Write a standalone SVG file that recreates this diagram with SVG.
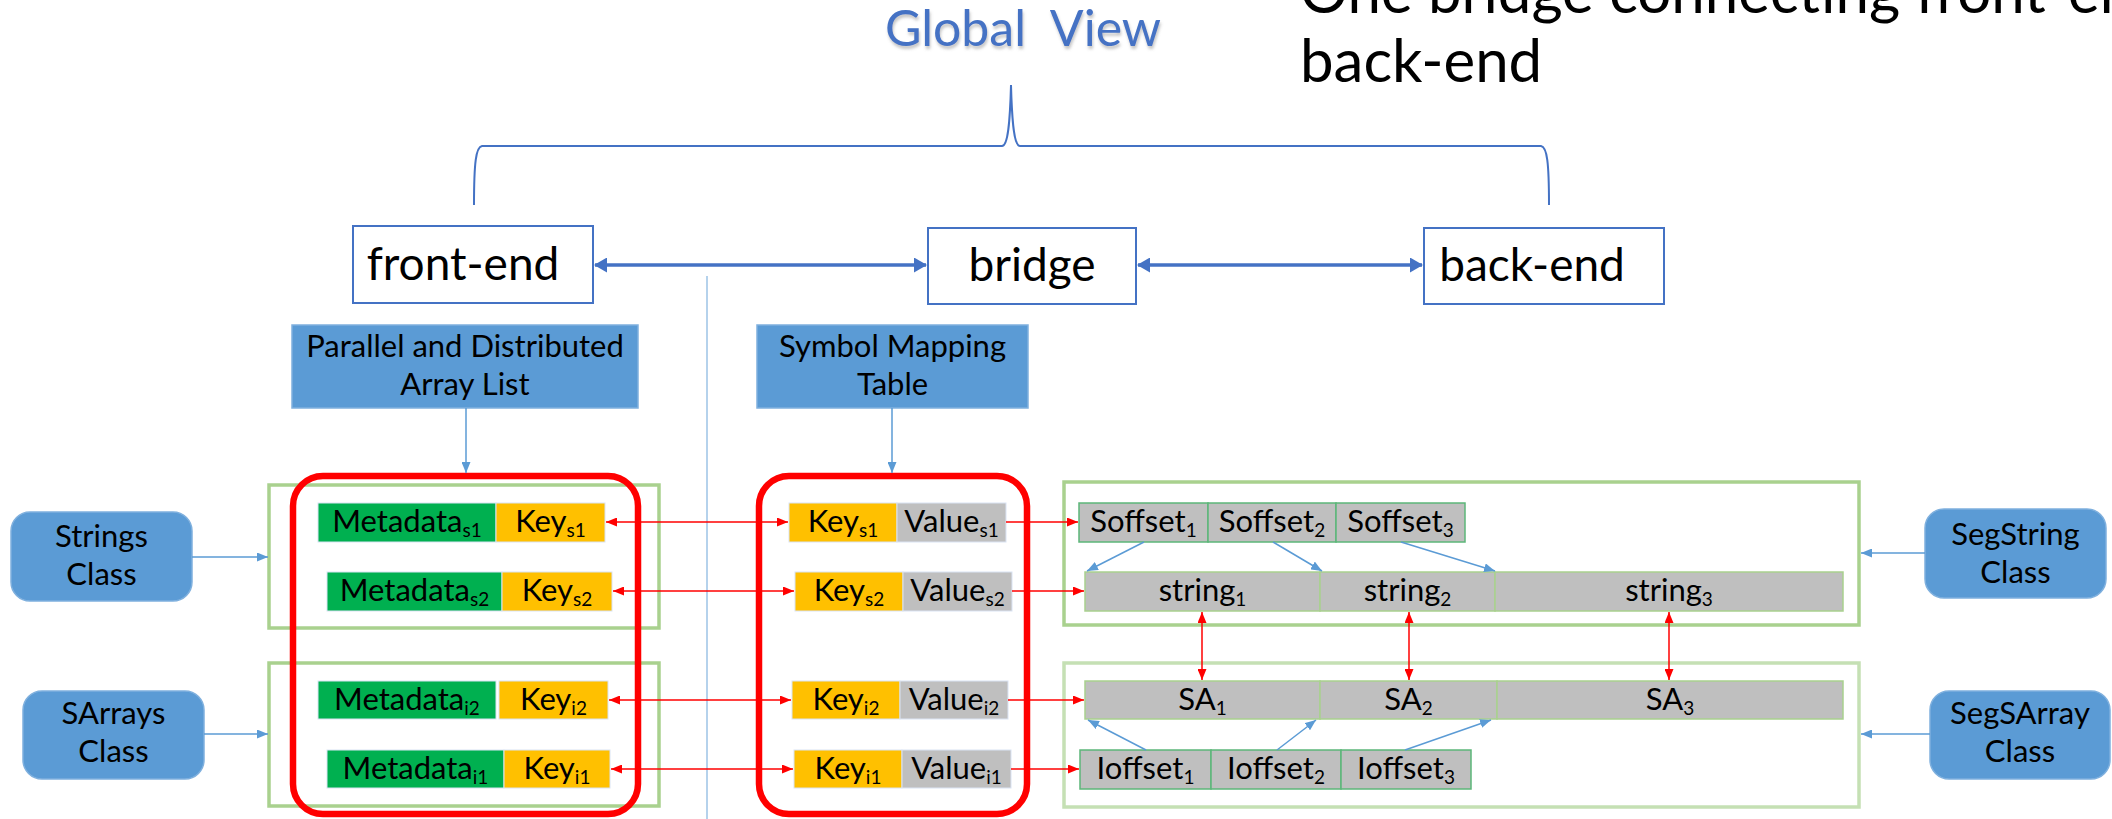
<svg xmlns="http://www.w3.org/2000/svg" width="2112" height="819" viewBox="0 0 2112 819">
  <defs>
    <marker id="arrRed" markerUnits="userSpaceOnUse" markerWidth="11" markerHeight="9" refX="11" refY="4.5" orient="auto-start-reverse">
      <path d="M0,0 L11,4.5 L0,9 z" fill="#FF0000"/>
    </marker>
    <marker id="arrBlue" markerUnits="userSpaceOnUse" markerWidth="11" markerHeight="9" refX="11" refY="4.5" orient="auto-start-reverse">
      <path d="M0,0 L11,4.5 L0,9 z" fill="#5B9BD5"/>
    </marker>
    <marker id="arrBold" markerUnits="userSpaceOnUse" markerWidth="13" markerHeight="15" refX="12" refY="7.5" orient="auto-start-reverse">
      <path d="M0,0 L13,7.5 L0,15 z" fill="#4472C4"/>
    </marker>
    <filter id="txtShadow" x="-10%" y="-20%" width="120%" height="150%">
      <feDropShadow dx="1" dy="3" stdDeviation="1.5" flood-color="#7f7f7f" flood-opacity="0.45"/>
    </filter>
  </defs>
  <style>
    text { font-family: Lato, "Open Sans", "Liberation Sans", sans-serif; fill: #000; }
    .t48 { font-size: 46px; text-anchor: middle; }
    .t32 { font-size: 31px; text-anchor: middle; }
    .sub { font-size: 19px; }
    .view { fill: #FFFFFF; stroke: #4472C4; stroke-width: 2; }
    .blueBox { fill: #5B9BD5; stroke: #7FB0DE; stroke-width: 1.5; }
    .grpA { fill: none; stroke: #A9D18E; stroke-width: 3.5; }
    .grpB { fill: none; stroke: #C5E0B4; stroke-width: 3.5; }
    .redBox { fill: none; stroke: #FF0000; stroke-width: 6.5; }
    .meta { fill: #00B050; stroke: #DAE3F3; stroke-width: 1; }
    .key { fill: #FFC000; stroke: #DAE3F3; stroke-width: 1; }
    .val { fill: #BFBFBF; stroke: #DAE3F3; stroke-width: 1; }
    .off { fill: #BFBFBF; stroke: #5CB679; stroke-width: 1.5; }
    .seg { fill: #BFBFBF; stroke: #A9D18E; stroke-width: 1.5; }
    .lnRed { fill: none; stroke: #FF0000; stroke-width: 1.5; }
    .lnBlue { fill: none; stroke: #5B9BD5; stroke-width: 1.5; }
  </style>

  <!-- headings -->
  <g id="title">
    <text x="1023" y="46" style="font-size:50px;fill:#4472C4;text-anchor:middle" filter="url(#txtShadow)" xml:space="preserve">Global  View</text>
    <text x="1300" y="13" style="font-size:60px">One bridge connecting front-end and</text>
    <text x="1300" y="82" style="font-size:60px">back-end</text>
  </g>

  <!-- overall brace and separator -->
  <g id="brace">
    <path d="M474,205 C474,162 476,147 482,146 L1002,146 C1008,146 1010,122 1011,85 C1012,122 1014,146 1020,146 L1541,146 C1547,147 1549,162 1549,205" fill="none" stroke="#4472C4" stroke-width="2"/>
  </g>
  <g id="separator">
    <line x1="707" y1="276" x2="707" y2="819" stroke="#9DC3E6" stroke-width="1.5"/>
  </g>

  <!-- top level views -->
  <g id="front-end">
    <rect class="view" x="353" y="226" width="240" height="77"/>
    <text class="t48" x="463" y="280">front-end</text>
  </g>
  <g id="bridge">
    <rect class="view" x="928" y="228" width="208" height="76"/>
    <text class="t48" x="1032" y="281">bridge</text>
  </g>
  <g id="back-end">
    <rect class="view" x="1424" y="228" width="240" height="76"/>
    <text class="t48" x="1532" y="281">back-end</text>
  </g>

  <!-- labels -->
  <g id="array-list">
    <rect class="blueBox" x="292" y="325" width="346" height="83"/>
    <text class="t32" x="465" y="357">Parallel and Distributed</text>
    <text class="t32" x="465" y="395">Array List</text>
  </g>
  <g id="symbol-table">
    <rect class="blueBox" x="757" y="325" width="271" height="83"/>
    <text class="t32" x="892.5" y="357">Symbol Mapping</text>
    <text class="t32" x="892.5" y="395">Table</text>
  </g>

  <!-- class boxes -->
  <g id="strings-class">
    <rect class="blueBox" x="11" y="512" width="181" height="89" rx="19"/>
    <text class="t32" x="101.5" y="547">Strings</text>
    <text class="t32" x="101.5" y="585">Class</text>
  </g>
  <g id="sarrays-class">
    <rect class="blueBox" x="23" y="691" width="181" height="88" rx="19"/>
    <text class="t32" x="113.5" y="724">SArrays</text>
    <text class="t32" x="113.5" y="762">Class</text>
  </g>
  <g id="segstring-class">
    <rect class="blueBox" x="1925" y="509" width="181" height="89" rx="19"/>
    <text class="t32" x="2015.5" y="545">SegString</text>
    <text class="t32" x="2015.5" y="583">Class</text>
  </g>
  <g id="segsarray-class">
    <rect class="blueBox" x="1930" y="691" width="180" height="88" rx="19"/>
    <text class="t32" x="2020" y="724">SegSArray</text>
    <text class="t32" x="2020" y="762">Class</text>
  </g>

  <!-- grouping frames -->
  <g id="frames">
    <rect class="grpA" x="269" y="485" width="390" height="143"/>
    <rect class="grpA" x="269" y="663" width="390" height="143"/>
    <rect class="grpA" x="1064" y="482" width="795" height="143"/>
    <rect class="grpB" x="1064" y="663" width="795" height="144"/>
    <rect class="redBox" x="293" y="476" width="345" height="338" rx="30"/>
    <rect class="redBox" x="759" y="476" width="268" height="338" rx="30"/>
  </g>

  <!-- front-end entries -->
  <g id="entry-s1">
    <rect class="meta" x="318" y="503" width="178" height="39"/>
    <rect class="key" x="496" y="503" width="109" height="39"/>
    <text class="t32" x="407" y="532">Metadata<tspan class="sub" dy="5">s1</tspan></text>
    <text class="t32" x="550.5" y="532">Key<tspan class="sub" dy="5">s1</tspan></text>
  </g>
  <g id="entry-s2">
    <rect class="meta" x="327" y="572" width="175" height="39"/>
    <rect class="key" x="502" y="572" width="110" height="39"/>
    <text class="t32" x="414.5" y="601">Metadata<tspan class="sub" dy="5">s2</tspan></text>
    <text class="t32" x="557" y="601">Key<tspan class="sub" dy="5">s2</tspan></text>
  </g>
  <g id="entry-i2">
    <rect class="meta" x="318" y="681" width="178" height="38"/>
    <rect class="key" x="499" y="681" width="109" height="38"/>
    <text class="t32" x="407" y="710">Metadata<tspan class="sub" dy="5">i2</tspan></text>
    <text class="t32" x="553.5" y="710">Key<tspan class="sub" dy="5">i2</tspan></text>
  </g>
  <g id="entry-i1">
    <rect class="meta" x="327" y="750" width="177" height="38"/>
    <rect class="key" x="504" y="750" width="106" height="38"/>
    <text class="t32" x="415.5" y="779">Metadata<tspan class="sub" dy="5">i1</tspan></text>
    <text class="t32" x="557" y="779">Key<tspan class="sub" dy="5">i1</tspan></text>
  </g>

  <!-- symbol table entries -->
  <g id="sym-s1">
    <rect class="key" x="789" y="503" width="108" height="39"/>
    <rect class="val" x="897" y="503" width="109" height="39"/>
    <text class="t32" x="843" y="532">Key<tspan class="sub" dy="5">s1</tspan></text>
    <text class="t32" x="951.5" y="532">Value<tspan class="sub" dy="5">s1</tspan></text>
  </g>
  <g id="sym-s2">
    <rect class="key" x="795" y="572" width="108" height="39"/>
    <rect class="val" x="903" y="572" width="109" height="39"/>
    <text class="t32" x="849" y="601">Key<tspan class="sub" dy="5">s2</tspan></text>
    <text class="t32" x="957.5" y="601">Value<tspan class="sub" dy="5">s2</tspan></text>
  </g>
  <g id="sym-i2">
    <rect class="key" x="792" y="681" width="108" height="38"/>
    <rect class="val" x="900" y="681" width="108" height="38"/>
    <text class="t32" x="846" y="710">Key<tspan class="sub" dy="5">i2</tspan></text>
    <text class="t32" x="954" y="710">Value<tspan class="sub" dy="5">i2</tspan></text>
  </g>
  <g id="sym-i1">
    <rect class="key" x="794" y="750" width="108" height="38"/>
    <rect class="val" x="902" y="750" width="109" height="38"/>
    <text class="t32" x="848" y="779">Key<tspan class="sub" dy="5">i1</tspan></text>
    <text class="t32" x="956.5" y="779">Value<tspan class="sub" dy="5">i1</tspan></text>
  </g>

  <!-- back-end segments -->
  <g id="soffsets">
    <rect class="off" x="1079" y="503" width="129" height="39"/>
    <rect class="off" x="1208" y="503" width="128" height="39"/>
    <rect class="off" x="1336" y="503" width="129" height="39"/>
    <text class="t32" x="1143.5" y="532">Soffset<tspan class="sub" dy="5">1</tspan></text>
    <text class="t32" x="1272" y="532">Soffset<tspan class="sub" dy="5">2</tspan></text>
    <text class="t32" x="1400.5" y="532">Soffset<tspan class="sub" dy="5">3</tspan></text>
  </g>
  <g id="strings">
    <rect class="seg" x="1085" y="572" width="235" height="39"/>
    <rect class="seg" x="1320" y="572" width="175" height="39"/>
    <rect class="seg" x="1495" y="572" width="348" height="39"/>
    <text class="t32" x="1202.5" y="601">string<tspan class="sub" dy="5">1</tspan></text>
    <text class="t32" x="1407.5" y="601">string<tspan class="sub" dy="5">2</tspan></text>
    <text class="t32" x="1669" y="601">string<tspan class="sub" dy="5">3</tspan></text>
  </g>
  <g id="sarrays">
    <rect class="seg" x="1085" y="681" width="235" height="38"/>
    <rect class="seg" x="1320" y="681" width="177" height="38"/>
    <rect class="seg" x="1497" y="681" width="346" height="38"/>
    <text class="t32" x="1202.5" y="710">SA<tspan class="sub" dy="5">1</tspan></text>
    <text class="t32" x="1408.5" y="710">SA<tspan class="sub" dy="5">2</tspan></text>
    <text class="t32" x="1670" y="710">SA<tspan class="sub" dy="5">3</tspan></text>
  </g>
  <g id="ioffsets">
    <rect class="off" x="1080" y="750" width="131" height="39"/>
    <rect class="off" x="1211" y="750" width="130" height="39"/>
    <rect class="off" x="1341" y="750" width="130" height="39"/>
    <text class="t32" x="1145.5" y="779">Ioffset<tspan class="sub" dy="5">1</tspan></text>
    <text class="t32" x="1276" y="779">Ioffset<tspan class="sub" dy="5">2</tspan></text>
    <text class="t32" x="1406" y="779">Ioffset<tspan class="sub" dy="5">3</tspan></text>
  </g>

  <!-- connectors -->
  <g id="connectors">
    <!-- view links -->
    <line x1="595" y1="265" x2="926" y2="265" stroke="#4472C4" stroke-width="3.5" marker-start="url(#arrBold)" marker-end="url(#arrBold)"/>
    <line x1="1138" y1="265" x2="1422" y2="265" stroke="#4472C4" stroke-width="3.5" marker-start="url(#arrBold)" marker-end="url(#arrBold)"/>
    <!-- label pointers -->
    <line class="lnBlue" x1="466" y1="408" x2="466" y2="473" marker-end="url(#arrBlue)"/>
    <line class="lnBlue" x1="892" y1="408" x2="892" y2="473" marker-end="url(#arrBlue)"/>
    <line class="lnBlue" x1="192" y1="557" x2="268" y2="557" marker-end="url(#arrBlue)"/>
    <line class="lnBlue" x1="204" y1="734" x2="268" y2="734" marker-end="url(#arrBlue)"/>
    <line class="lnBlue" x1="1925" y1="553" x2="1861" y2="553" marker-end="url(#arrBlue)"/>
    <line class="lnBlue" x1="1930" y1="734" x2="1861" y2="734" marker-end="url(#arrBlue)"/>
    <!-- key links -->
    <line class="lnRed" x1="606" y1="522" x2="788" y2="522" marker-start="url(#arrRed)" marker-end="url(#arrRed)"/>
    <line class="lnRed" x1="613" y1="591" x2="794" y2="591" marker-start="url(#arrRed)" marker-end="url(#arrRed)"/>
    <line class="lnRed" x1="609" y1="700" x2="791" y2="700" marker-start="url(#arrRed)" marker-end="url(#arrRed)"/>
    <line class="lnRed" x1="611" y1="769" x2="793" y2="769" marker-start="url(#arrRed)" marker-end="url(#arrRed)"/>
    <!-- value links -->
    <line class="lnRed" x1="1006" y1="522" x2="1078" y2="522" marker-end="url(#arrRed)"/>
    <line class="lnRed" x1="1012" y1="591" x2="1084" y2="591" marker-end="url(#arrRed)"/>
    <line class="lnRed" x1="1008" y1="700" x2="1084" y2="700" marker-end="url(#arrRed)"/>
    <line class="lnRed" x1="1011" y1="769" x2="1079" y2="769" marker-end="url(#arrRed)"/>
    <!-- string / suffix array links -->
    <line class="lnRed" x1="1202" y1="612" x2="1202" y2="680" marker-start="url(#arrRed)" marker-end="url(#arrRed)"/>
    <line class="lnRed" x1="1409" y1="612" x2="1409" y2="680" marker-start="url(#arrRed)" marker-end="url(#arrRed)"/>
    <line class="lnRed" x1="1669" y1="612" x2="1669" y2="680" marker-start="url(#arrRed)" marker-end="url(#arrRed)"/>
    <!-- offset pointers -->
    <line class="lnBlue" x1="1144" y1="542" x2="1087" y2="571" marker-end="url(#arrBlue)"/>
    <line class="lnBlue" x1="1273" y1="542" x2="1322" y2="571" marker-end="url(#arrBlue)"/>
    <line class="lnBlue" x1="1401" y1="542" x2="1495" y2="571" marker-end="url(#arrBlue)"/>
    <line class="lnBlue" x1="1146" y1="750" x2="1088" y2="720" marker-end="url(#arrBlue)"/>
    <line class="lnBlue" x1="1277" y1="750" x2="1316" y2="720" marker-end="url(#arrBlue)"/>
    <line class="lnBlue" x1="1405" y1="750" x2="1491" y2="720" marker-end="url(#arrBlue)"/>
  </g>
</svg>
